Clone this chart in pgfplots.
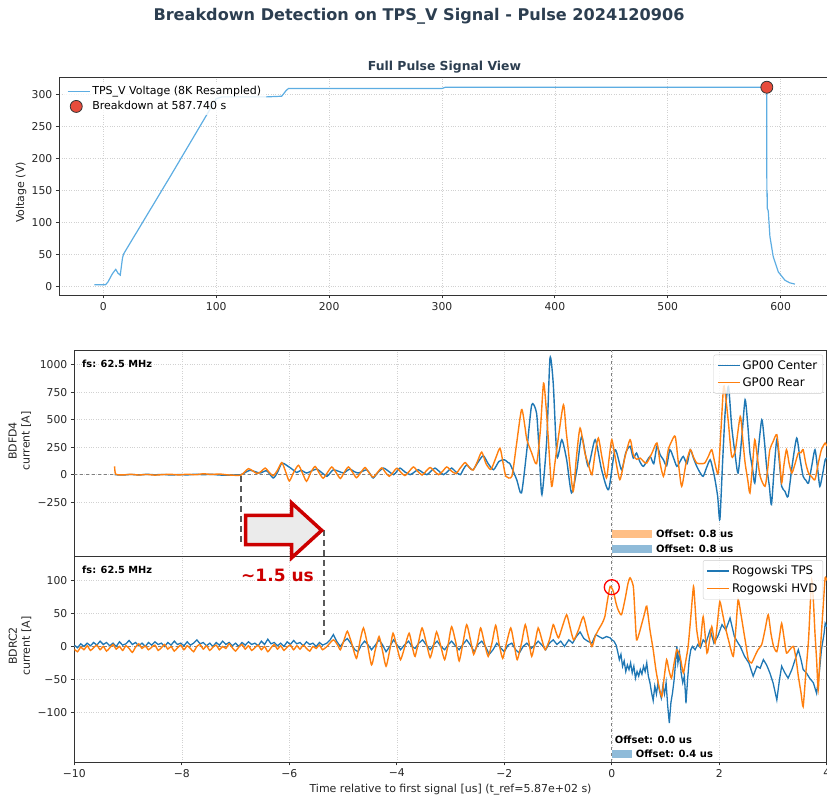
\documentclass[border=0pt]{standalone}
\usepackage{fontspec}
\setmainfont{DejaVu Sans}
\usepackage{pgfplots}
\pgfplotsset{compat=1.18}
\definecolor{mplblue}{RGB}{31,119,180}
\definecolor{mplorange}{RGB}{255,127,14}
\definecolor{lightblue}{RGB}{93,173,226}
\definecolor{bdred}{RGB}{231,76,60}
\definecolor{titlecol}{RGB}{44,62,80}
\definecolor{arrowred}{RGB}{204,0,0}
\definecolor{obar}{RGB}{255,191,134}
\definecolor{bbar}{RGB}{143,187,217}
\pgfplotsset{
  base/.style={
    scale only axis,
    axis line style={black!80, line width=0.8pt},
    tick align=outside,
    tick pos=left,
    major tick length=3.5pt,
    every tick/.style={black!80, line width=0.8pt},
    grid=major,
    major grid style={dotted, black!18, line width=0.6pt},
    tick label style={font=\fontsize{10.8}{12}\selectfont, text=black!85},
    label style={font=\fontsize{11}{13}\selectfont, text=black!85},
    /pgf/number format/assume math mode=true,
    clip mode=individual,
  },
  mline/.style={legend image code/.code={\draw[##1] (0pt,0pt) -- (22pt,0pt);}},
  rlegend/.style={legend style={at={(0.995,0.98)}, anchor=north east, draw=black!20, fill=white, fill opacity=0.8, text opacity=1, rounded corners=2pt, font=\fontsize{11.8}{13}\selectfont, cells={anchor=west}, inner sep=3.5pt, row sep=3pt}},
}
\begin{document}
\begin{tikzpicture}
\useasboundingbox (0pt,0pt) rectangle (827pt,799pt);
\node[font=\bfseries\fontsize{16.1}{18}\selectfont, text=titlecol] at (419pt,783pt) {Breakdown Detection on TPS\_V Signal - Pulse 2024120906};
\node[font=\bfseries\fontsize{12.4}{14}\selectfont, text=titlecol] at (444.5pt,732pt) {Full Pulse Signal View};

% ---------------- top axis ----------------
\begin{axis}[base, at={(59.3pt,504pt)}, anchor=south west,
  width=769.9pt, height=218pt,
  xmin=-39, xmax=643, ymin=-13, ymax=327,
  xtick={0,100,200,300,400,500,600},
  ytick={0,50,100,150,200,250,300},
  ylabel={Voltage (V)},
  ylabel style={at={(axis description cs:-0.0497,0.47)}, anchor=center},
  legend image post style={fill opacity=1, draw opacity=1},
  legend style={at={(0.006,0.975)}, anchor=north west, draw=none, fill=white, fill opacity=0.8, text opacity=1, font=\fontsize{11}{13}\selectfont, cells={anchor=west}, row sep=1pt}]
\addplot[lightblue, line width=1.2pt, mline] coordinates {
(-8,3) (2,3) (4,7) (8,20) (11,27) (13,21) (15,18) (17,45) (18,51) (20,57)
(60,174) (100,293) (105,296) (145,296) (158,297) (162,306) (164,309)
(300,309) (303,311) (587.6,311) (587.8,140) (588.0,150) (588.2,122)
(589,118) (590.5,78) (593.4,47) (597.9,23) (603.8,10) (608,6) (612.6,4)};
\addlegendentry{TPS\_V Voltage (8K Resampled)}
\addplot[only marks, mark=*, mark size=6pt, mark options={fill=bdred, draw=black!80, line width=0.8pt}] coordinates {(587.74,311)};
\addlegendentry{Breakdown at 587.740 s}
\end{axis}

% ---------------- middle axis ----------------
\begin{axis}[base, rlegend, at={(74.3pt,243pt)}, anchor=south west,
  width=752.5pt, height=205.5pt,
  xmin=-10, xmax=4, ymin=-740, ymax=1130,
  xtick={-10,-8,-6,-4,-2,0,2,4}, xticklabel style={opacity=0}, xtick style={draw=none},
  ytick={-250,0,250,500,750,1000},
  yticklabels={−250,0,250,500,750,1000},
  ylabel={BDFD4\\current [A]},
  ylabel style={align=center, at={(axis description cs:-0.0722,0.56)}, anchor=center}]
\draw[gray, dashed, line width=0.7pt] (axis cs:-10,0) -- (axis cs:4,0);
\draw[gray, dashed, line width=0.7pt] (axis cs:0,-740) -- (axis cs:0,1130);
\addplot[mplblue, line width=1.4pt, smooth, tension=0.4, mline] coordinates {
(-9.25,0) (-9.1,-3) (-8.95,2) (-8.8,-2) (-8.65,3) (-8.5,-1) (-8.35,2) (-8.2,-3) (-8.05,1) (-7.9,-2)
(-7.75,4) (-7.6,0) (-7.45,3) (-7.3,-3) (-7.15,-5) (-7.0,-2) (-6.9,0) (-6.82,20) (-6.73,40) (-6.62,25)
(-6.54,15) (-6.42,35) (-6.30,-30) (-6.22,20) (-6.14,106) (-6.05,85) (-5.96,55) (-5.86,20) (-5.78,40) (-5.68,15)
(-5.58,35) (-5.49,51) (-5.40,20) (-5.30,-15) (-5.24,15) (-5.18,45) (-5.08,30) (-4.99,15) (-4.93,35) (-4.87,51)
(-4.80,30) (-4.72,15) (-4.64,30) (-4.56,45) (-4.50,10) (-4.44,-30) (-4.35,20) (-4.25,60) (-4.15,30) (-4.06,0)
(-4.00,30) (-3.94,60) (-3.85,25) (-3.75,0) (-3.67,25) (-3.60,45) (-3.52,20) (-3.44,0) (-3.37,30) (-3.29,60)
(-3.20,25) (-3.13,0) (-3.05,30) (-2.98,60) (-2.90,25) (-2.82,0) (-2.76,50) (-2.70,90) (-2.64,60) (-2.58,45)
(-2.48,120) (-2.39,172) (-2.30,100) (-2.20,45) (-2.10,120) (-2.00,136) (-1.93,110) (-1.89,95) (-1.77,-45) (-1.68,-166)
(-1.58,227) (-1.49,636) (-1.40,560) (-1.35,200) (-1.30,-182) (-1.21,318) (-1.15,1060) (-1.09,833) (-1.02,166) (-0.93,318)
(-0.84,136) (-0.75,-166) (-0.65,45) (-0.56,348) (-0.44,76) (-0.31,318) (-0.19,45) (-0.06,-136) (0.06,227) (0.18,45)
(0.26,200) (0.34,258) (0.40,150) (0.46,197) (0.52,120) (0.59,76) (0.71,166) (0.78,100) (0.84,258) (0.90,180)
(0.96,136) (1.02,80) (1.08,227) (1.15,150) (1.21,76) (1.27,120) (1.33,166) (1.40,100) (1.46,227) (1.52,150)
(1.58,76) (1.64,20) (1.70,-15) (1.76,60) (1.83,136) (1.88,50) (1.92,-45) (1.97,-200) (2.01,-409) (2.06,100)
(2.11,576) (2.17,803) (2.23,440) (2.29,200) (2.35,15) (2.42,350) (2.48,682) (2.53,450) (2.57,197) (2.62,50)
(2.66,-76) (2.72,200) (2.79,500) (2.84,300) (2.88,76) (2.93,-100) (2.97,-273) (3.02,50) (3.07,318) (3.12,100)
(3.16,-106) (3.22,-150) (3.28,-197) (3.36,100) (3.44,333) (3.50,150) (3.56,-15) (3.61,-50) (3.66,-76) (3.72,80)
(3.78,227) (3.83,50) (3.87,-106) (3.92,0) (3.97,136) (4.0,150)};
\addlegendentry{GP00 Center}
\addplot[mplorange, line width=1.4pt, smooth, tension=0.4, mline] coordinates {
(-9.25,75) (-9.23,5) (-9.1,-2) (-8.95,3) (-8.8,-3) (-8.65,2) (-8.5,-4) (-8.35,1) (-8.2,3) (-8.05,-2)
(-7.9,4) (-7.75,-1) (-7.6,8) (-7.45,2) (-7.3,6) (-7.15,-2) (-7.0,-6) (-6.9,-4) (-6.83,25) (-6.76,55)
(-6.68,35) (-6.60,10) (-6.52,30) (-6.45,60) (-6.37,20) (-6.30,-10) (-6.22,40) (-6.14,110) (-6.07,30) (-6.00,-58)
(-5.92,20) (-5.83,85) (-5.76,20) (-5.68,-60) (-5.60,20) (-5.52,75) (-5.45,20) (-5.37,-32) (-5.29,20) (-5.21,70)
(-5.13,20) (-5.05,-35) (-4.98,20) (-4.90,70) (-4.82,20) (-4.75,-28) (-4.67,20) (-4.59,65) (-4.52,20) (-4.44,-22)
(-4.36,20) (-4.28,62) (-4.21,20) (-4.14,-15) (-4.07,20) (-4.00,58) (-3.92,20) (-3.85,-8) (-3.77,30) (-3.69,70)
(-3.61,30) (-3.53,-3) (-3.46,30) (-3.38,65) (-3.30,30) (-3.22,0) (-3.15,30) (-3.07,70) (-2.99,35) (-2.90,10)
(-2.82,60) (-2.73,110) (-2.66,70) (-2.58,42) (-2.50,120) (-2.42,205) (-2.34,100) (-2.25,48) (-2.16,150) (-2.08,240)
(-2.02,100) (-1.97,-15) (-1.86,-15) (-1.78,250) (-1.68,591) (-1.62,450) (-1.58,318) (-1.49,197) (-1.40,100) (-1.33,400)
(-1.27,833) (-1.22,600) (-1.18,318) (-1.12,-106) (-1.06,100) (-1.00,318) (-0.90,636) (-0.85,400) (-0.81,227) (-0.72,-151)
(-0.66,150) (-0.59,424) (-0.50,197) (-0.44,100) (-0.37,0) (-0.31,200) (-0.25,333) (-0.18,150) (-0.10,-30) (-0.05,150)
(0.00,318) (0.06,166) (0.15,-45) (0.24,150) (0.34,318) (0.40,182) (0.46,140) (0.53,151) (0.59,120) (0.65,106)
(0.75,200) (0.84,288) (0.90,100) (0.96,-15) (1.01,100) (1.05,227) (1.11,300) (1.18,348) (1.24,100) (1.30,-106)
(1.38,100) (1.46,227) (1.52,160) (1.58,106) (1.66,100) (1.73,106) (1.80,170) (1.86,227) (1.92,100) (1.98,15)
(2.03,400) (2.08,803) (2.12,700) (2.17,470) (2.23,166) (2.30,227) (2.39,530) (2.44,300) (2.48,106) (2.53,-50)
(2.57,-166) (2.62,100) (2.66,318) (2.71,150) (2.76,-15) (2.85,-106) (2.90,50) (2.94,227) (3.00,300) (3.07,364)
(3.12,150) (3.16,-76) (3.20,80) (3.25,227) (3.30,100) (3.35,15) (3.41,100) (3.47,197) (3.52,200) (3.56,227)
(3.61,100) (3.66,15) (3.72,-20) (3.78,-45) (3.84,100) (3.90,227) (3.97,288) (4.0,260)};
\addlegendentry{GP00 Rear}
\node[anchor=west, inner sep=0pt, font=\bfseries\fontsize{9.8}{11}\selectfont] at (rel axis cs:0.0102,0.935) {fs: 62.5 MHz};
\fill[obar] (axis cs:0,-500) rectangle (axis cs:0.744,-575);
\node[anchor=west, inner sep=0pt, font=\bfseries\fontsize{10}{11}\selectfont] at (axis cs:0.822,-537) {Offset: 0.8 us};
\fill[bbar] (axis cs:0,-636) rectangle (axis cs:0.744,-712);
\node[anchor=west, inner sep=0pt, font=\bfseries\fontsize{10}{11}\selectfont] at (axis cs:0.822,-674) {Offset: 0.8 us};
\end{axis}

% ---------------- bottom axis ----------------
\begin{axis}[base, rlegend, at={(74.3pt,37pt)}, anchor=south west,
  width=752.5pt, height=206pt,
  xmin=-10, xmax=4, ymin=-175, ymax=137,
  xtick={-10,-8,-6,-4,-2,0,2,4},
  xticklabels={−10,−8,−6,−4,−2,0,2,4},
  ytick={-100,-50,0,50,100},
  yticklabels={−100,−50,0,50,100},
  xlabel={Time relative to first signal [us] (t\_ref=5.87e+02 s)},
  ylabel={BDRC2\\current [A]},
  ylabel style={align=center, at={(axis description cs:-0.0722,0.563)}, anchor=center}]
\draw[gray, dashed, line width=0.7pt] (axis cs:-10,0) -- (axis cs:4,0);
\draw[gray, dashed, line width=0.7pt] (axis cs:0,-175) -- (axis cs:0,137);
\addplot[mplblue, line width=1.3pt, mline] coordinates {
(-10.00,2) (-9.94,-2) (-9.88,4) (-9.82,0) (-9.76,5) (-9.70,1) (-9.64,6) (-9.58,2) (-9.52,8) (-9.46,3)
(-9.40,6) (-9.34,1) (-9.28,5) (-9.22,0) (-9.16,7) (-9.10,2) (-9.04,4) (-8.98,9) (-8.92,3) (-8.86,6)
(-8.80,1) (-8.74,5) (-8.68,0) (-8.62,6) (-8.56,2) (-8.50,7) (-8.44,3) (-8.38,5) (-8.32,0) (-8.26,6)
(-8.20,2) (-8.14,8) (-8.08,3) (-8.02,5) (-7.96,1) (-7.90,7) (-7.84,2) (-7.78,5) (-7.72,10) (-7.66,4)
(-7.60,6) (-7.54,1) (-7.48,5) (-7.42,0) (-7.36,6) (-7.30,2) (-7.24,8) (-7.18,3) (-7.12,6) (-7.06,1)
(-7.00,5) (-6.94,0) (-6.88,6) (-6.82,2) (-6.76,7) (-6.70,3) (-6.64,5) (-6.58,1) (-6.52,8) (-6.46,3)
(-6.40,11) (-6.34,4) (-6.28,6) (-6.22,1) (-6.16,5) (-6.10,0) (-6.04,7) (-5.98,3) (-5.92,9) (-5.86,4)
(-5.80,6) (-5.74,1) (-5.68,7) (-5.62,3) (-5.56,5) (-5.50,0) (-5.44,6) (-5.38,2)
(-5.30,5) (-5.24,10) (-5.18,18) (-5.12,8) (-5.05,0) (-4.98,8) (-4.92,12) (-4.85,4) (-4.78,-5) (-4.72,-8)
(-4.66,2) (-4.60,8) (-4.54,3) (-4.47,-5) (-4.40,2) (-4.33,10) (-4.27,3) (-4.20,-8) (-4.13,0) (-4.06,10)
(-4.00,3) (-3.93,-5) (-3.86,2) (-3.78,8) (-3.72,0) (-3.66,-3) (-3.59,5) (-3.52,10) (-3.45,2) (-3.38,-5)
(-3.31,3) (-3.25,8) (-3.18,0) (-3.11,-5) (-3.04,3) (-2.98,8) (-2.90,0) (-2.84,-5) (-2.77,3) (-2.70,10)
(-2.63,2) (-2.56,-8) (-2.49,3) (-2.42,8) (-2.35,0) (-2.28,-12) (-2.21,-5) (-2.14,5) (-2.07,-2) (-2.00,-8)
(-1.93,2) (-1.86,5) (-1.79,-5) (-1.72,-10) (-1.65,0) (-1.58,5) (-1.50,-3) (-1.43,2) (-1.37,8) (-1.30,2)
(-1.23,-5) (-1.16,5) (-1.09,10) (-1.02,3) (-0.95,8) (-0.88,0) (-0.80,10) (-0.73,5) (-0.66,15) (-0.59,22)
(-0.52,12) (-0.45,8) (-0.37,5) (-0.30,18) (-0.24,15) (-0.17,12) (-0.10,15) (-0.03,13)
(0.00,10) (0.04,8) (0.08,2) (0.11,-8) (0.14,-20) (0.17,-12) (0.20,-30) (0.23,-22) (0.26,-38) (0.29,-28)
(0.32,-35) (0.35,-25) (0.38,-40) (0.41,-30) (0.44,-48) (0.47,-38) (0.50,-45) (0.53,-35) (0.56,-42) (0.59,-30)
(0.62,-38) (0.65,-25) (0.68,-45) (0.71,-55) (0.74,-70) (0.77,-82) (0.80,-60) (0.83,-72) (0.86,-55) (0.89,-68)
(0.92,-78) (0.95,-60) (0.98,-72) (1.01,-55) (1.04,-90) (1.07,-116) (1.10,-85) (1.13,-70) (1.16,-50) (1.19,-20)
(1.21,0) (1.23,-25) (1.26,-10) (1.29,-40) (1.32,-55) (1.35,-45) (1.38,-86) (1.41,-50) (1.44,-20) (1.47,-5)
(1.50,0) (1.55,-5) (1.60,3) (1.65,-2) (1.70,10) (1.75,5) (1.83,25) (1.90,5) (1.97,15) (2.05,33)
(2.12,25) (2.20,43) (2.28,15) (2.35,5) (2.39,0) (2.47,-15) (2.55,-25) (2.63,-45) (2.70,-30) (2.76,-33)
(2.82,-20) (2.88,-28) (2.94,-40) (3.00,-55) (3.07,-81) (3.12,-50) (3.16,-30) (3.22,-40) (3.28,-48) (3.35,-35)
(3.41,-20) (3.47,-5) (3.52,-20) (3.56,-35) (3.62,-40) (3.68,-48) (3.75,-55) (3.81,-71) (3.86,-40) (3.90,-5)
(3.95,20) (3.97,35) (4.00,30)};
\addlegendentry{Rogowski TPS}
\addplot[mplorange, line width=1.4pt, smooth, tension=0.35, mline] coordinates {
(-10.00,-4) (-9.94,-8) (-9.88,-1) (-9.82,-5) (-9.76,1) (-9.70,-6) (-9.64,-2) (-9.58,2) (-9.52,-5) (-9.46,0)
(-9.40,-7) (-9.34,-2) (-9.28,3) (-9.22,-4) (-9.16,0) (-9.10,-6) (-9.04,1) (-8.98,-3) (-8.92,-9) (-8.86,-1)
(-8.80,4) (-8.74,-3) (-8.68,1) (-8.62,-5) (-8.56,-1) (-8.50,2) (-8.44,-6) (-8.38,-2) (-8.32,3) (-8.26,-4)
(-8.20,0) (-8.14,-7) (-8.08,-2) (-8.02,2) (-7.96,-5) (-7.90,1) (-7.84,-3) (-7.78,-8) (-7.72,0) (-7.66,3)
(-7.60,-4) (-7.54,1) (-7.48,-6) (-7.42,-1) (-7.36,2) (-7.30,-5) (-7.24,0) (-7.18,-3) (-7.12,4) (-7.06,-2)
(-7.00,-7) (-6.94,-1) (-6.88,3) (-6.82,-4) (-6.76,1) (-6.70,-6) (-6.64,-2) (-6.58,2) (-6.52,-5) (-6.46,0)
(-6.40,-8) (-6.34,-2) (-6.28,3) (-6.22,-4) (-6.16,1) (-6.10,-6) (-6.04,-1) (-5.98,2) (-5.92,-5) (-5.86,1)
(-5.80,-4) (-5.74,2) (-5.68,-3) (-5.62,-7) (-5.56,0) (-5.50,-3) (-5.44,2) (-5.38,-5)
(-5.30,0) (-5.18,10) (-5.10,2) (-5.05,-5) (-4.98,10) (-4.92,23) (-4.84,5) (-4.75,-18) (-4.68,10) (-4.62,28)
(-4.55,5) (-4.47,-28) (-4.40,-5) (-4.33,15) (-4.27,-5) (-4.20,-30) (-4.13,-5) (-4.07,20) (-4.00,0) (-3.93,-20)
(-3.85,0) (-3.77,20) (-3.70,-5) (-3.66,-15) (-3.60,5) (-3.53,28) (-3.45,5) (-3.38,-17) (-3.32,0) (-3.26,22)
(-3.18,0) (-3.11,-20) (-3.04,5) (-2.98,30) (-2.90,5) (-2.84,-22) (-2.77,5) (-2.70,33) (-2.63,10) (-2.57,-12)
(-2.50,5) (-2.44,28) (-2.37,5) (-2.30,-15) (-2.23,5) (-2.16,32) (-2.10,5) (-2.03,-18) (-1.96,5) (-1.88,28)
(-1.82,5) (-1.76,-20) (-1.68,5) (-1.61,33) (-1.55,10) (-1.49,-15) (-1.43,5) (-1.37,28) (-1.30,10) (-1.24,-5)
(-1.16,10) (-1.09,33) (-1.04,22) (-0.99,13) (-0.92,30) (-0.84,48) (-0.78,30) (-0.71,10) (-0.62,25) (-0.53,45)
(-0.45,20) (-0.37,0) (-0.31,15) (-0.25,25) (-0.18,35) (-0.13,45) (-0.08,70) (-0.03,91) (0.03,83) (0.08,65)
(0.12,55) (0.18,48) (0.25,73) (0.30,95) (0.34,104) (0.40,91) (0.43,50) (0.46,10) (0.51,20) (0.56,35)
(0.61,50) (0.65,61) (0.71,25) (0.77,-5) (0.82,-35) (0.87,-58) (0.93,-76) (0.97,-50) (1.02,-20) (1.06,-35)
(1.11,-48) (1.16,-25) (1.21,-5) (1.27,-15) (1.33,-40) (1.38,-20) (1.42,0) (1.47,45) (1.52,91) (1.55,60)
(1.58,25) (1.64,0) (1.70,45) (1.77,-10) (1.82,10) (1.86,30) (1.92,5) (1.97,40) (2.01,68) (2.06,50)
(2.11,30) (2.17,10) (2.26,-15) (2.31,30) (2.35,71) (2.40,50) (2.45,25) (2.50,0) (2.54,-20) (2.60,-25)
(2.66,-15) (2.72,-5) (2.79,3) (2.85,25) (2.91,48) (2.96,20) (3.01,0) (3.07,-8) (3.12,15) (3.16,35)
(3.21,10) (3.25,-10) (3.31,-5) (3.38,0) (3.43,-20) (3.47,-45) (3.52,-70) (3.56,-91) (3.61,-40) (3.66,10)
(3.69,60) (3.72,101) (3.75,70) (3.78,20) (3.81,-20) (3.84,-66) (3.87,-20) (3.90,20) (3.94,70) (3.97,104)
(4.0,100)};
\addlegendentry{Rogowski HVD}
\node[anchor=west, inner sep=0pt, font=\bfseries\fontsize{9.8}{11}\selectfont] at (rel axis cs:0.0102,0.932) {fs: 62.5 MHz};
\node[anchor=west, inner sep=0pt, font=\bfseries\fontsize{10}{11}\selectfont] at (axis cs:0.055,-141) {Offset: 0.0 us};
\fill[bbar] (axis cs:0,-156.7) rectangle (axis cs:0.372,-169);
\node[anchor=west, inner sep=0pt, font=\bfseries\fontsize{10}{11}\selectfont] at (axis cs:0.446,-163) {Offset: 0.4 us};
\draw[red, line width=1.3pt] (axis cs:0,89.7) circle[radius=7.5pt];
% annotations spanning both panels
\draw[black!65, line width=1.6pt, dash pattern=on 6pt off 4pt] (axis cs:-6.904,257.6) -- (axis cs:-6.904,157.6);
\draw[black!65, line width=1.6pt, dash pattern=on 6pt off 4pt] (axis cs:-5.354,175.8) -- (axis cs:-5.354,17.7);
\draw[arrowred, fill=black!8, line width=3.5pt, line join=miter]
  (axis cs:-6.811,198.5) -- (axis cs:-5.955,198.5) -- (axis cs:-5.955,217.3) -- (axis cs:-5.397,175.8)
  -- (axis cs:-5.955,134.4) -- (axis cs:-5.955,154.1) -- (axis cs:-6.811,154.1) -- cycle;
\node[text=arrowred, font=\bfseries\fontsize{17}{20}\selectfont] at (axis cs:-6.22,107) {\textasciitilde1.5 us};
\end{axis}
\end{tikzpicture}
\end{document}
